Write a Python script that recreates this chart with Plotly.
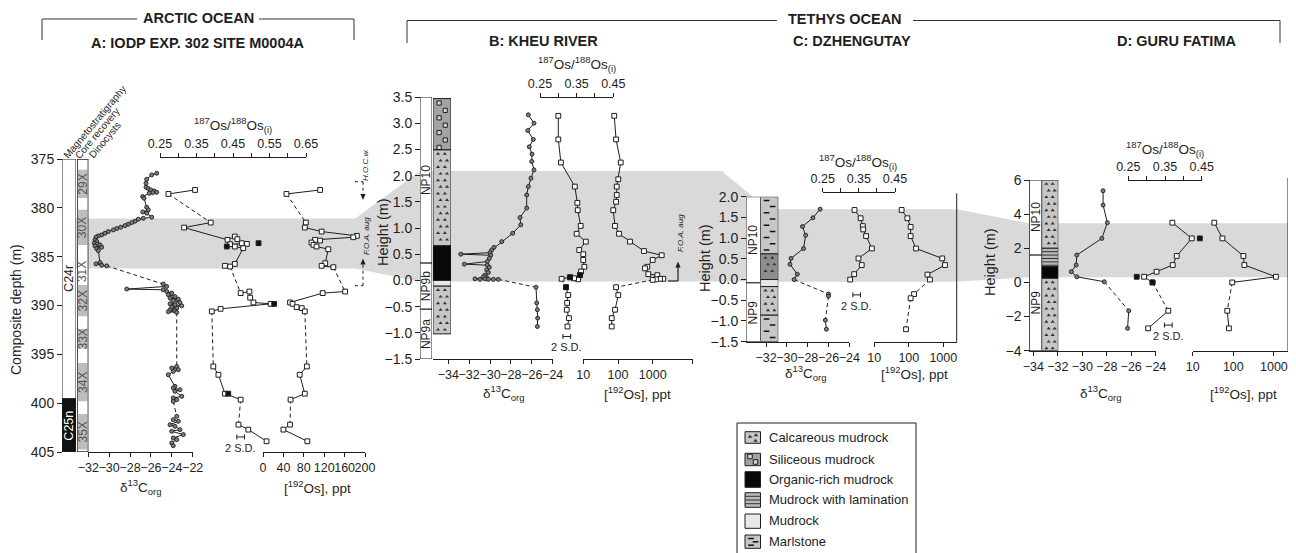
import plotly.graph_objects as go

# The page body adds an 8 px margin, so the figure is sized to the remaining view
# and all pixel positions below are given in page (screenshot) coordinates.
OFF = 8
W, H = 1288, 545
FONT = "Liberation Sans, Arial, Helvetica, sans-serif"
INK = "#1e1e1e"
BAND = "#d9d9d9"


def X(px):
    return (px - OFF) / W


def Y(py):
    return 1 - (py - OFF) / H


# ============================ DATA ============================
# None marks a sampling gap (drawn as a dashed connector)
# ---- A: IODP Exp. 302 Site M0004A (composite depth, m) ----
A_c13_depth = [376.46, 376.63, 377.08, 377.49, 377.90, 378.03, 378.17, 378.27, 378.41, 378.44,
               378.51, 378.85, 379.02, 379.94, 380.21, 380.42, 380.55, 380.96, 381.07, 381.17,
               381.37, 381.51, 381.68, 381.82, 381.99, 382.12, 382.26, 382.43, 382.60, 382.77,
               382.87, 383.00, 383.28, 383.45, 383.62, 383.72, 383.79, 383.90, 384.03, 384.17,
               384.38, 385.60, 385.74, 385.87, 385.94, None,
               387.81, 388.05, 388.32, 388.39, 388.56, 388.73, 388.90, 389.08, 389.25, 389.35,
               389.48, 389.69, 389.83, 389.93, 390.03, 390.17, 390.27, 390.44, 390.54, 390.64, 390.71, None,
               396.24, 396.40, 396.57, 396.75, 397.09, 398.28, 398.45, 398.62, 398.79, 399.30,
               399.47, 399.64, 399.81, None,
               401.35, 401.69, 401.86, 402.20, 402.37, 402.71, 402.88, 403.22, 403.56, 403.73,
               404.07, 404.35]
A_c13_val = [-25.45, -25.93, -26.41, -26.47, -26.47, -26.25, -26.02, -25.71, -25.45, -25.83,
             -26.16, -26.79, -26.66, -26.41, -26.25, -26.79, -26.41, -25.93, -26.73, -27.21,
             -27.53, -27.84, -28.17, -28.48, -28.90, -29.28, -29.60, -30.08, -30.40, -30.72,
             -31.04, -31.26, -31.36, -31.20, -31.42, -31.14, -30.88, -31.36, -30.72, -31.20,
             -31.04, -30.88, -31.26, -30.72, -30.24, None,
             -24.82, -24.50, -28.32, -24.82, -24.49, -24.01, -24.33, -23.70, -24.17, -23.38,
             -23.86, -23.22, -24.17, -23.70, -23.05, -24.01, -23.53, -24.17, -23.70, -24.33, -23.53, None,
             -23.53, -24.01, -23.38, -23.86, -24.34, -23.70, -23.86, -23.22, -23.70, -23.05,
             -23.86, -23.53, -23.86, None,
             -23.53, -23.86, -23.38, -24.17, -23.70, -23.22, -24.01, -22.90, -23.86, -23.53,
             -24.01, -23.86]
A_osr_depth = [378.17, 378.58, None,
               381.51, 382.02, 383.28, 382.94, 383.21, 383.62, 383.69, 383.73, 383.96, 384.13,
               385.74, 385.94, 386.01, None,
               388.73, 388.57, 389.20, 389.69, 389.83, 390.34, 390.60, None,
               396.24, 397.09, 399.03, 399.64, None,
               402.20, 402.71, 403.90]
A_osr_val = [0.346, 0.273, None,
             0.389, 0.316, 0.435, 0.455, 0.462, 0.474, 0.488, 0.442, 0.455, 0.478,
             0.455, 0.428, 0.442, None,
             0.471, 0.495, 0.497, 0.506, 0.553, 0.416, 0.392, None,
             0.396, 0.410, 0.428, 0.471, None,
             0.465, 0.492, 0.542]
A_osr_rep_depth = [383.62, 383.96, 389.83, 399.03]
A_osr_rep_val = [0.520, 0.433, 0.563, 0.437]
A_os_depth = [378.17, 378.58, None,
              381.51, 382.02, 382.43, 382.87, 383.01, 383.28, 383.35, 383.55, 383.79, 383.96,
              384.24, 385.67, 385.94, 386.08, None,
              388.57, 388.73, 389.69, 389.83, 390.17, 390.27, 390.60, None,
              396.24, 397.09, 399.03, 399.64, None,
              402.20, 402.71, 403.90]
A_os_val = [112, 46, None,
            84, 82, 115, 184, 177, 102, 112, 95, 99, 105,
            128, 122, 115, 138, None,
            161, 117, 53, 58, 66, 76, 82, None,
            86, 72, 82, 54, None,
            53, 40, 87]
A_band = (381.1, 386.2)
A_mag_name = ["C24r", "C25n"]
A_mag_top = [375.0, 399.55]
A_mag_bot = [399.55, 405.0]
A_core_name = ["29X", "30X", "31X", "32X", "33X", "34X", "35X"]
A_core_top = [376.1, 380.2, 385.2, 387.9, 392.4, 395.9, 401.1]
A_core_bot = [379.0, 383.8, 387.8, 391.1, 394.4, 399.8, 404.75]
A_core_recovered = [True, True, False, True, True, True, True]
A_sd = (0.471, 403.46)

# ---- B: Kheu River (height, m) ----
B_c13_h = [3.16, 3.00, 2.86, 2.69, 2.55, 2.41, 2.27, 2.11, 1.95, 1.79, 1.63, 1.38, 1.20, 1.06,
           0.90, 0.74, 0.63, 0.58, 0.53, 0.50, 0.48, 0.42, 0.36, 0.31, 0.29, 0.25, 0.20, 0.15,
           0.10, 0.07, 0.05, 0.03, 0.02, 0.03, 0.02, 0.02, 0.02, None,
           -0.13, -0.43, -0.56, -0.72, -0.88]
B_c13_v = [-26.33, -25.79, -26.39, -25.86, -26.24, -25.98, -26.01, -25.79, -26.08, -26.33,
           -26.49, -26.49, -27.13, -27.06, -27.83, -28.88, -29.62, -29.84, -30.00, -32.80,
           -29.93, -30.07, -30.26, -32.46, -30.26, -30.07, -30.32, -30.16, -30.48, -30.64,
           -30.32, -31.44, -30.96, -30.48, -30.16, -29.68, -29.21, None,
           -25.60, -25.53, -25.47, -25.44, -25.47]
B_osr_h = [3.14, 2.69, 2.25, 1.79, 1.48, 1.34, 1.04, 0.89, 0.74, 0.58, 0.50, 0.39, 0.26, 0.17,
           0.10, 0.02, 0.04, 0.06, 0.03, None,
           -0.13, -0.28, -0.43, -0.56, -0.72, -0.88]
B_osr_v = [0.300, 0.300, 0.307, 0.345, 0.352, 0.353, 0.361, 0.350, 0.375, 0.357, 0.368, 0.368,
           0.371, 0.362, 0.359, 0.354, 0.343, 0.332, 0.309, None,
           0.321, 0.327, 0.324, 0.323, 0.329, 0.325]
B_osr_rep_h = [0.10, 0.06, -0.13]
B_osr_rep_v = [0.359, 0.332, 0.321]
B_os_h = [3.14, 2.69, 2.25, 1.93, 1.79, 1.63, 1.50, 1.34, 1.04, 0.89, 0.74, 0.56, 0.48, 0.39,
          0.26, 0.23, 0.12, 0.10, 0.03, 0.03, 0.02, 0.01, None,
          -0.13, -0.28, -0.56, -0.72, -0.88]
B_os_v = [78, 88, 120, 102, 92, 92, 88, 73, 82, 107, 222, 561, 1815, 1000,
          699, 600, 747, 1358, 2018, 1622, 1245, 1000, None,
          88, 102, 82, 66, 66]
B_band = (-0.02, 2.09)
B_np_name = ["NP10", "NP9b", "NP9a"]
B_np_top = [3.5, 0.33, -0.55]
B_np_bot = [0.33, -0.55, -1.5]
B_lith = ["siliceous", "calcareous", "organic", "mudrock", "calcareous"]
B_lith_top = [3.47, 2.49, 0.66, 0.0, -0.11]
B_lith_bot = [2.49, 0.66, 0.0, -0.11, -1.02]
B_sd = (0.323, -1.07)

# ---- C: Dzhengutay (height, m) ----
C_c13_h = [1.70, 1.49, 1.28, 1.07, 0.75, 0.51, 0.37, 0.13, 0.00, None, -0.35, -0.40, None, -0.98, -1.20]
C_c13_v = [-26.8, -27.5, -28.5, -28.2, -28.4, -29.6, -29.7, -29.0, -29.3, None, -26.0, -26.0, None, -26.3, -26.2]
C_osr_h = [1.68, 1.48, 1.29, 1.21, 1.05, 0.75, 0.51, 0.35, 0.13, 0.00]
C_osr_v = [0.338, 0.355, 0.361, 0.362, 0.370, 0.386, 0.349, 0.358, 0.337, 0.326]
C_os_h = [1.68, 1.48, 1.27, 1.05, 0.75, 0.51, 0.35, 0.12, 0.00, None, -0.35, -0.45, None, -1.20]
C_os_v = [62, 91, 113, 113, 162, 933, 1120, 347, 410, None, 142, 113, None, 83]
C_band = (-0.05, 1.70)
C_np_name = ["NP10", "NP9"]
C_np_top = [2.0, -0.08]
C_np_bot = [-0.08, -1.5]
C_lith = ["marlstone", "calcareous_dark", "mudrock", "calcareous", "marlstone"]
C_lith_top = [2.0, 0.62, 0.0, -0.17, -0.86]
C_lith_bot = [0.62, 0.0, -0.17, -0.86, -1.5]
C_sd = (0.344, -0.37)

# ---- D: Guru Fatima (height, m) ----
D_c13_h = [5.37, 4.53, 3.50, 2.58, 1.60, 1.02, 0.63, 0.33, 0.04, None, -1.66, -2.69]
D_c13_v = [-28.3, -28.3, -27.95, -28.4, -30.45, -30.5, -30.9, -30.45, -28.2, None, -26.2, -26.3]
D_osr_h = [3.50, 2.58, 1.55, 1.02, 0.63, 0.33, 0.00, None, -1.66, -2.69]
D_osr_v = [0.370, 0.423, 0.382, 0.371, 0.327, 0.293, 0.316, None, 0.359, 0.304]
D_osr_rep_h = [2.58, 0.33, 0.00]
D_osr_rep_v = [0.445, 0.273, 0.316]
D_os_h = [3.50, 2.58, 1.55, 1.02, 0.33, 0.00, None, -1.66, -2.69]
D_os_v = [34, 54, 177, 187, 1120, 94, None, 71, 78]
D_band = (0.30, 3.46)
D_np_name = ["NP10", "NP9"]
D_np_top = [6.0, 1.6]
D_np_bot = [1.6, -4.0]
D_lith = ["calcareous", "lamination", "organic", "calcareous"]
D_lith_top = [6.0, 2.0, 0.92, 0.24]
D_lith_bot = [2.0, 0.92, 0.24, -4.0]
D_sd = (0.359, -2.50)

LEGEND_ITEMS = ["Calcareous mudrock", "Siliceous mudrock", "Organic-rich mudrock",
                "Mudrock with lamination", "Mudrock", "Marlstone"]
LEGEND_KEYS = ["calcareous", "siliceous", "organic", "lamination", "mudrock", "marlstone"]

# ============================ LAYOUT / STYLE ============================
LITH_FILL = {"calcareous": "#c6c6c6", "calcareous_dark": "#8e8e8e", "siliceous": "#a3a3a3",
             "organic": "#080808", "lamination": "#b9b9b9", "mudrock": "#e8e8e8",
             "marlstone": "#c6c6c6"}
LITH_MARK = {"calcareous": "tri", "calcareous_dark": "tri", "siliceous": "sq",
             "organic": None, "lamination": "lam", "mudrock": None, "marlstone": "dash"}

P = {
    "A": dict(y="y", name="yaxis", ydom=(159, 452), yrng=(405, 375), ypos=62,
              ticks=[375, 380, 385, 390, 395, 400, 405], fmt=None),
    "B": dict(y="y2", name="yaxis2", ydom=(97, 359), yrng=(-1.5, 3.5), ypos=420,
              ticks=[-1.5, -1.0, -0.5, 0, 0.5, 1.0, 1.5, 2.0, 2.5, 3.0, 3.5], fmt=".1f"),
    "C": dict(y="y3", name="yaxis3", ydom=(196.7, 341.7), yrng=(-1.5, 2.0), ypos=746,
              ticks=[-1.5, -1.0, -0.5, 0, 0.5, 1.0, 1.5, 2.0], fmt=".1f"),
    "D": dict(y="y4", name="yaxis4", ydom=(180, 350.7), yrng=(-4, 6), ypos=1029.3,
              ticks=[-4, -2, 0, 2, 4, 6], fmt=None),
}


def vpy(p, v):
    top, bot = P[p]["ydom"]
    r0, r1 = P[p]["yrng"]
    return bot + (v - r0) / (r1 - r0) * (top - bot)


def ppu(p):
    top, bot = P[p]["ydom"]
    r0, r1 = P[p]["yrng"]
    return abs((bot - top) / (r1 - r0))


fig = go.Figure()
shapes, annots = [], []
axes = {}
xcount = [0]


def new_x(dom, rng, anchor, visible=True, **kw):
    xcount[0] += 1
    n = xcount[0]
    name = "xaxis" if n == 1 else f"xaxis{n}"
    ref = "x" if n == 1 else f"x{n}"
    d = dict(domain=[X(dom[0]), X(dom[1])], range=list(rng), anchor=anchor,
             showgrid=False, zeroline=False, fixedrange=True)
    if visible:
        d.update(showline=True, linecolor=INK, linewidth=1, ticks="outside", ticklen=4,
                 tickwidth=1, tickcolor=INK, tickangle=0,
                 tickfont=dict(family=FONT, size=12.5, color=INK))
    else:
        d.update(visible=False)
    d.update(kw)
    axes[name] = d
    return ref


for k, p in P.items():
    d = dict(domain=[Y(p["ydom"][1]), Y(p["ydom"][0])], range=list(p["yrng"]), anchor="free",
             position=X(p["ypos"]), showgrid=False, zeroline=False, showline=True,
             linecolor=INK, linewidth=1, ticks="outside", ticklen=5, tickcolor=INK,
             tickmode="array", tickvals=p["ticks"], fixedrange=True,
             tickfont=dict(family=FONT, size=14, color=INK))
    if p["fmt"]:
        d["tickformat"] = p["fmt"]
    axes[p["name"]] = d


def top_axis(py, labels):
    return dict(position=Y(py), side="top", tickmode="array", tickvals=labels,
                tickformat=".2f", ticklen=4,
                minor=dict(tickmode="linear", tick0=0.25, dtick=0.05, ticks="outside",
                           ticklen=4, tickcolor=INK, tickwidth=1, showgrid=False))


def log_axis(vals, text):
    return dict(type="log", tickmode="array", tickvals=vals, ticktext=text)


# ---------- axes ----------
AX = {}
AX["A_c"] = new_x((88.3, 192.7), (-32, -22), "y", tickmode="array", tickvals=[-32, -30, -28, -26, -24, -22])
AX["A_r"] = new_x((160, 306), (0.25, 0.65), "free", **top_axis(157, [0.25, 0.35, 0.45, 0.55, 0.65]))
AX["A_o"] = new_x((263, 365), (0, 200), "y", tickmode="array", tickvals=[0, 40, 80, 120, 160, 200])
AX["A_mag"] = new_x((62, 76), (0, 1), "y", visible=False)
AX["A_core"] = new_x((77.3, 88.3), (0, 1), "y", visible=False)

AX["B_c"] = new_x((432.6, 552.7), (-35.5, -24), "y2", tickmode="array", tickvals=[-34, -32, -30, -28, -26, -24])
AX["B_r"] = new_x((540, 613.3), (0.25, 0.45), "free", **top_axis(96.7, [0.25, 0.35, 0.45]))
AX["B_o"] = new_x((583.3, 692.7), (1, 4.153), "y2", **log_axis([10, 100, 1000, 10 ** 4.153], ["10", "100", "1000", ""]))
AX["B_np"] = new_x((420, 432), (0, 1), "y2", visible=False)
AX["B_lith"] = new_x((433, 451), (0, 1), "y2", visible=False)

AX["C_c"] = new_x((746, 849.3), (-33.93, -24), "y3", tickmode="array", tickvals=[-32, -30, -28, -26, -24])
AX["C_r"] = new_x((822.7, 895), (0.25, 0.45), "free", **top_axis(191.7, [0.25, 0.35, 0.45]))
AX["C_o"] = new_x((874.3, 956.7), (1, 3.388), "y3", **log_axis([10, 100, 1000], ["10", "100", "1000"]))
AX["C_np"] = new_x((746, 760.5), (0, 1), "y3", visible=False)
AX["C_lith"] = new_x((760.5, 778.3), (0, 1), "y3", visible=False)

AX["D_c"] = new_x((1029.3, 1155.7), (-34.33, -24), "y4", tickmode="array", tickvals=[-34, -32, -30, -28, -26, -24])
AX["D_r"] = new_x((1128.3, 1201.7), (0.25, 0.45), "free", **top_axis(180, [0.25, 0.35, 0.45]))
AX["D_o"] = new_x((1192.7, 1288), (1, 3.347), "y4", **log_axis([10, 100, 1000], ["10", "100", "1000"]))
AX["D_np"] = new_x((1029.3, 1041.7), (0, 1), "y4", visible=False)
AX["D_lith"] = new_x((1041.7, 1058.3), (0, 1), "y4", visible=False)

AX["L"] = new_x((700, 1000), (700, 1000), "y5", visible=False)
axes["yaxis5"] = dict(domain=[Y(553), Y(400)], range=[553, 400], anchor=AX["L"], visible=False,
                      fixedrange=True)

# ---------- shaded interval (drawn first, below everything) ----------
bands = {"A": A_band, "B": B_band, "C": C_band, "D": D_band}
bt = {k: vpy(k, max(v) if k != "A" else min(v)) for k, v in bands.items()}
bb = {k: vpy(k, min(v) if k != "A" else max(v)) for k, v in bands.items()}
poly = [(62, bt["A"]), (355, bt["A"]), (420, bt["B"]), (721.7, bt["B"]), (768, bt["C"]),
        (957, bt["C"]), (1029.3, bt["D"]), (1288, bt["D"]), (1288, bb["D"]), (1029.3, bb["D"]),
        (957, bb["C"]), (768, bb["C"]), (721.7, bb["B"]), (420, bb["B"]), (355, bb["A"]), (62, bb["A"])]
path = "M " + " L ".join(f"{X(a):.5f},{Y(b):.5f}" for a, b in poly) + " Z"
shapes.append(dict(type="path", path=path, xref="paper", yref="paper", fillcolor=BAND,
                   line=dict(width=0), layer="below"))


def rect(xr, yr, y0, y1, fill, lw=1):
    shapes.append(dict(type="rect", xref=xr, yref=yr, x0=0, x1=1, y0=y0, y1=y1,
                       fillcolor=fill, line=dict(color=INK, width=lw), layer="below"))


def pattern(xr, yr, p, y0, y1, mark):
    lo, hi = min(y0, y1), max(y0, y1)
    u = ppu(p)
    if mark == "lam":
        step = 3.4 / u
        xs, ys = [], []
        y = hi - step
        while y > lo + step * 0.4:
            xs += [0, 1, None]
            ys += [y, y, None]
            y -= step
        fig.add_trace(go.Scatter(x=xs, y=ys, xaxis=xr, yaxis=yr, mode="lines",
                                 line=dict(color="#333", width=1), hoverinfo="skip"))
        return
    step = {"tri": 6.6, "sq": 7.4, "dash": 6.2}[mark] / u
    xs, ys = [], []
    y = hi - step * 0.6
    k = 0
    while y > lo + step * 0.3:
        if mark == "tri":
            offs = [0.28, 0.66] if k % 2 == 0 else [0.42, 0.78]
        else:
            offs = [0.34] if k % 2 == 0 else [0.68]
        for o in offs:
            xs.append(o)
            ys.append(y)
        y -= step
        k += 1
    if mark == "tri":
        m = dict(symbol="triangle-up", size=3.6, color="#333", line=dict(width=0))
    elif mark == "sq":
        m = dict(symbol="square", size=4.2, color="#d6d6d6", line=dict(color=INK, width=1))
    else:
        m = dict(symbol="line-ew", size=4, line=dict(color="#111", width=1.5))
    fig.add_trace(go.Scatter(x=xs, y=ys, xaxis=xr, yaxis=yr, mode="markers", marker=m,
                             hoverinfo="skip"))


def col_label(xr, yr, yv, text, color=INK, size=12):
    annots.append(dict(xref=xr, yref=yr, x=0.5, y=yv, text=text, showarrow=False,
                       textangle=-90, font=dict(family=FONT, size=size, color=color),
                       xanchor="center", yanchor="middle"))


# ---------- A columns ----------
for nm, t, b in zip(A_mag_name, A_mag_top, A_mag_bot):
    rect(AX["A_mag"], "y", t, b, "white" if nm == "C24r" else "#111")
    col_label(AX["A_mag"], "y", (t + b) / 2 if nm == "C24r" else 402.3, nm,
              INK if nm == "C24r" else "white", 12.5)
rect(AX["A_core"], "y", 375, 405, "white")
for nm, t, b, rec in zip(A_core_name, A_core_top, A_core_bot, A_core_recovered):
    if rec:
        shapes.append(dict(type="rect", xref=AX["A_core"], yref="y", x0=0, x1=1, y0=t, y1=b,
                           fillcolor="#bdbdbd", line=dict(width=0), layer="below"))
    col_label(AX["A_core"], "y", (t + b) / 2, nm, "#555", 12)
rect(AX["A_core"], "y", 375, 405, "rgba(0,0,0,0)")

# ---------- B/C/D columns ----------
for p, names, tops, bots, liths, ltops, lbots in [
    ("B", B_np_name, B_np_top, B_np_bot, B_lith, B_lith_top, B_lith_bot),
    ("C", C_np_name, C_np_top, C_np_bot, C_lith, C_lith_top, C_lith_bot),
    ("D", D_np_name, D_np_top, D_np_bot, D_lith, D_lith_top, D_lith_bot),
]:
    yr = P[p]["y"]
    for nm, t, b in zip(names, tops, bots):
        rect(AX[p + "_np"], yr, t, b, "white")
        col_label(AX[p + "_np"], yr, (t + b) / 2, nm, INK, 12)
    for lt, t, b in zip(liths, ltops, lbots):
        rect(AX[p + "_lith"], yr, t, b, LITH_FILL[lt])
        if LITH_MARK[lt]:
            pattern(AX[p + "_lith"], yr, p, t, b, LITH_MARK[lt])


# ---------- data series ----------
def add_series(xr, yr, hs, vs, kind, reps=None):
    dx, dy = [], []
    for i, v in enumerate(vs):
        if v is None:
            dx += [vs[i - 1], vs[i + 1], None]
            dy += [hs[i - 1], hs[i + 1], None]
    if dx:
        fig.add_trace(go.Scatter(x=dx, y=dy, xaxis=xr, yaxis=yr, mode="lines",
                                 line=dict(color=INK, width=1, dash="4px,3px"), hoverinfo="skip"))
    if kind == "c":
        m = dict(symbol="circle", size=4.0, color="#7c7c7c", line=dict(color=INK, width=0.9))
    else:
        m = dict(symbol="square", size=4.8, color="white", line=dict(color=INK, width=1))
    fig.add_trace(go.Scatter(x=vs, y=hs, xaxis=xr, yaxis=yr, mode="lines+markers",
                             connectgaps=False, line=dict(color=INK, width=1), marker=m,
                             cliponaxis=False, hoverinfo="skip"))
    if reps:
        fig.add_trace(go.Scatter(x=reps[1], y=reps[0], xaxis=xr, yaxis=yr, mode="markers",
                                 marker=dict(symbol="square", size=4.8, color="#111",
                                             line=dict(color=INK, width=1)),
                                 cliponaxis=False, hoverinfo="skip"))


def add_sd(xr, yr, pt):
    fig.add_trace(go.Scatter(x=[pt[0]], y=[pt[1]], xaxis=xr, yaxis=yr, mode="markers",
                             marker=dict(size=1, color="rgba(0,0,0,0)"),
                             error_x=dict(type="constant", value=0.0105, width=2.5,
                                          thickness=1, color=INK),
                             cliponaxis=False, hoverinfo="skip"))
    annots.append(dict(xref=xr, yref=yr, x=pt[0], y=pt[1], yshift=-11, text="2 S.D.",
                       showarrow=False, font=dict(family=FONT, size=11, color=INK)))


add_series(AX["A_c"], "y", A_c13_depth, A_c13_val, "c")
add_series(AX["A_r"], "y", A_osr_depth, A_osr_val, "s", (A_osr_rep_depth, A_osr_rep_val))
add_series(AX["A_o"], "y", A_os_depth, A_os_val, "s")
add_sd(AX["A_r"], "y", A_sd)

add_series(AX["B_c"], "y2", B_c13_h, B_c13_v, "c")
add_series(AX["B_r"], "y2", B_osr_h, B_osr_v, "s", (B_osr_rep_h, B_osr_rep_v))
add_series(AX["B_o"], "y2", B_os_h, B_os_v, "s")
add_sd(AX["B_r"], "y2", B_sd)

add_series(AX["C_c"], "y3", C_c13_h, C_c13_v, "c")
add_series(AX["C_r"], "y3", C_osr_h, C_osr_v, "s")
add_series(AX["C_o"], "y3", C_os_h, C_os_v, "s")
add_sd(AX["C_r"], "y3", C_sd)

add_series(AX["D_c"], "y4", D_c13_h, D_c13_v, "c")
add_series(AX["D_r"], "y4", D_osr_h, D_osr_v, "s", (D_osr_rep_h, D_osr_rep_v))
add_series(AX["D_o"], "y4", D_os_h, D_os_v, "s")
add_sd(AX["D_r"], "y4", D_sd)


# ---------- decorations in pixel space ----------
def line(x0, y0, x1, y1, color="#333", width=1, dash=None):
    ln = dict(color=color, width=width)
    if dash:
        ln["dash"] = dash
    shapes.append(dict(type="line", xref="paper", yref="paper", x0=X(x0), y0=Y(y0),
                       x1=X(x1), y1=Y(y1), line=ln))


def ann(px, py, text, size=13, angle=0, xanchor="center", color=INK):
    annots.append(dict(xref="paper", yref="paper", x=X(px), y=Y(py), text=text,
                       showarrow=False, textangle=angle, xanchor=xanchor, yanchor="middle",
                       font=dict(family=FONT, size=size, color=color)))


def arrowhead(px, py, up=True):
    d = 1 if up else -1
    pts = [(px, py), (px - 2.6, py + 6 * d), (px + 2.6, py + 6 * d)]
    shapes.append(dict(type="path", xref="paper", yref="paper",
                       path="M " + " L ".join(f"{X(a):.5f},{Y(b):.5f}" for a, b in pts) + " Z",
                       fillcolor=INK, line=dict(width=0)))


line(956.7, 193.3, 956.7, 341.7, INK)
line(1288, 178, 1288, 350.7, INK)

line(42, 40, 42, 19)
line(42, 19, 137, 19)
line(259, 19, 354, 19)
line(354, 19, 354, 40)
line(407, 43, 407, 20.5)
line(407, 20.5, 777, 20.5)
line(913, 20.5, 1280, 20.5)
line(1280, 20.5, 1280, 43)
ann(198, 18, "<b>ARCTIC OCEAN</b>", 14.5)
ann(198, 43, "<b>A: IODP EXP. 302 SITE M0004A</b>", 14.5)
ann(845, 19, "<b>TETHYS OCEAN</b>", 14.5)
ann(543, 41, "<b>B: KHEU RIVER</b>", 14.5)
ann(852, 41, "<b>C: DZHENGUTAY</b>", 14.5)
ann(1176, 41, "<b>D: GURU FATIMA</b>", 14.5)

OSR = "<sup>187</sup>Os/<sup>188</sup>Os<sub>(i)</sub>"
C13 = "δ<sup>13</sup>C<sub>org</sub>"
OSC = "[<sup>192</sup>Os], ppt"
for (x1, y1), (x2, y2), (x3, y3) in [((233, 125), (140, 487), (317, 487)),
                                     ((577, 64), (503, 393), (637, 393)),
                                     ((858, 162), (805, 373), (915, 373)),
                                     ((1165, 149), (1100, 393), (1243, 393))]:
    ann(x1, y1, OSR, 13.5)
    ann(x2, y2, C13, 13.5)
    ann(x3, y3, OSC, 13.5)

ann(16, 310, "Composite depth (m)", 14, angle=-90)
ann(383, 232, "Height (m)", 14.5, angle=-90)
ann(705, 258, "Height (m)", 14.5, angle=-90)
ann(990, 262, "Height (m)", 14.5, angle=-90)

ann(94, 122, "Magnetostratigraphy", 10, angle=-50)
ann(98, 133, "Core recovery", 10, angle=-50)
ann(104, 140, "Dinocysts", 10, angle=-50)

line(355, 181.7, 363, 181.7, INK, 1, "dot")
line(363, 181.7, 363, 194, INK, 1, "dot")
arrowhead(363, 200, up=False)
ann(366, 165, "<i>H.O.C.w.</i>", 8, angle=-90)
line(355, 285.7, 363, 285.7, INK, 1, "dot")
line(363, 285.7, 363, 264, INK, 1, "dot")
arrowhead(363, 258.5, up=True)
ann(366, 236, "<i>F.O.A. aug</i>", 8, angle=-90)
line(668, 281, 678, 281, INK, 1.2)
line(678, 281, 678, 266, INK, 1.2)
arrowhead(678, 261.5, up=True)
ann(681, 233, "<i>F.O.A. aug</i>", 8, angle=-90)

# ---------- lithology legend ----------
L = AX["L"]
shapes.append(dict(type="rect", xref=L, yref="y5", x0=737, x1=916, y0=423, y1=560,
                   fillcolor="white", line=dict(color=INK, width=1), layer="below"))
sw_top = [431.7, 453.3, 471.7, 492.7, 514.0, 535.0]
sw_bot = [443.3, 465.7, 487.3, 507.3, 528.3, 548.3]
for name, key, t, b in zip(LEGEND_ITEMS, LEGEND_KEYS, sw_top, sw_bot):
    shapes.append(dict(type="rect", xref=L, yref="y5", x0=745, x1=760.5, y0=t, y1=b,
                       fillcolor=LITH_FILL[key], line=dict(color=INK, width=1), layer="below"))
    annots.append(dict(xref=L, yref="y5", x=767, y=(t + b) / 2 - 0.5, text=name, showarrow=False,
                       xanchor="left", yanchor="middle", font=dict(family=FONT, size=13, color=INK)))
fig.add_trace(go.Scatter(x=[750, 756, 755.5], y=[436.8, 435.2, 440.8], xaxis=L, yaxis="y5",
                         mode="markers", marker=dict(symbol="triangle-up", size=4, color="#333")))
fig.add_trace(go.Scatter(x=[750, 755.5], y=[456.5, 462], xaxis=L, yaxis="y5", mode="markers",
                         marker=dict(symbol="square", size=4.5, color="#d6d6d6",
                                     line=dict(color=INK, width=1))))
fig.add_trace(go.Scatter(x=[745, 760.5, None, 745, 760.5, None, 745, 760.5],
                         y=[496.3, 496.3, None, 500, 500, None, 503.7, 503.7], xaxis=L,
                         yaxis="y5", mode="lines", line=dict(color="#333", width=1)))
fig.add_trace(go.Scatter(x=[751, 755.5, 751], y=[538.5, 541.8, 545.2], xaxis=L, yaxis="y5",
                         mode="markers", marker=dict(symbol="line-ew", size=4,
                                                     line=dict(color="#111", width=1.5))))

fig.update_traces(showlegend=False)
fig.update_layout(width=W, height=H, template="none",
                  margin=dict(l=0, r=0, t=0, b=0, pad=0, autoexpand=False),
                  paper_bgcolor="white", plot_bgcolor="rgba(0,0,0,0)", showlegend=False,
                  hovermode=False, font=dict(family=FONT, color=INK),
                  shapes=shapes, annotations=annots, **axes)
fig.write_html("out.html")
